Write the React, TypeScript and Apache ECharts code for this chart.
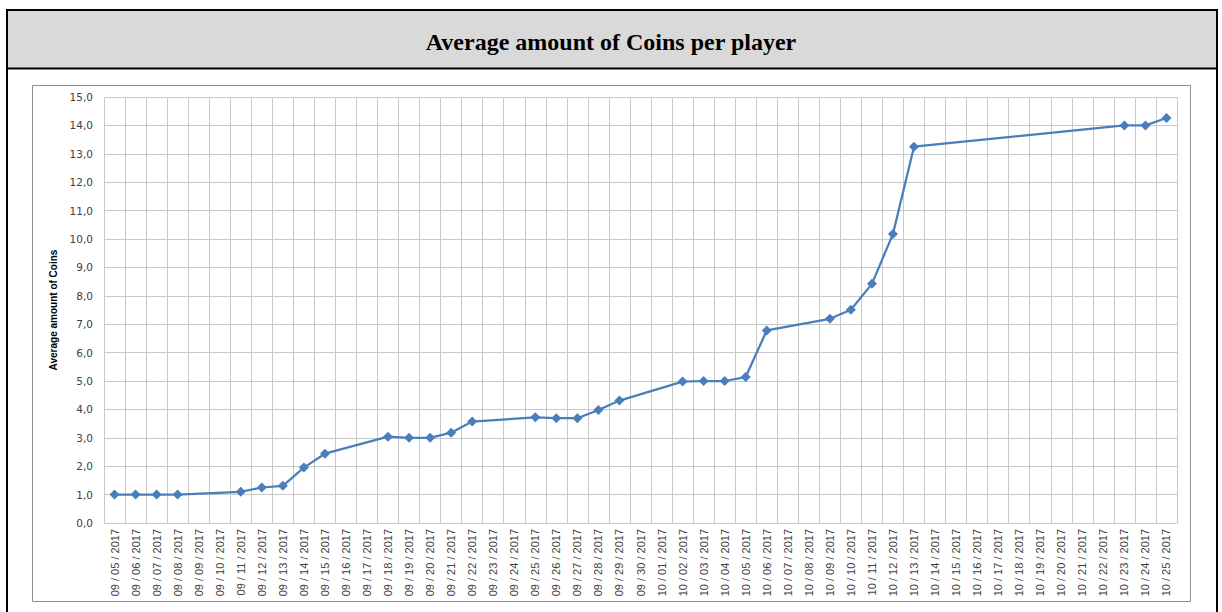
import React, { useEffect, useRef } from "react";
import * as echarts from "echarts";

const categories: string[] = [
  "09 / 05 / 2017", "09 / 06 / 2017", "09 / 07 / 2017", "09 / 08 / 2017", "09 / 09 / 2017",
  "09 / 10 / 2017", "09 / 11 / 2017", "09 / 12 / 2017", "09 / 13 / 2017", "09 / 14 / 2017",
  "09 / 15 / 2017", "09 / 16 / 2017", "09 / 17 / 2017", "09 / 18 / 2017", "09 / 19 / 2017",
  "09 / 20 / 2017", "09 / 21 / 2017", "09 / 22 / 2017", "09 / 23 / 2017", "09 / 24 / 2017",
  "09 / 25 / 2017", "09 / 26 / 2017", "09 / 27 / 2017", "09 / 28 / 2017", "09 / 29 / 2017",
  "09 / 30 / 2017", "10 / 01 / 2017", "10 / 02 / 2017", "10 / 03 / 2017", "10 / 04 / 2017",
  "10 / 05 / 2017", "10 / 06 / 2017", "10 / 07 / 2017", "10 / 08 / 2017", "10 / 09 / 2017",
  "10 / 10 / 2017", "10 / 11 / 2017", "10 / 12 / 2017", "10 / 13 / 2017", "10 / 14 / 2017",
  "10 / 15 / 2017", "10 / 16 / 2017", "10 / 17 / 2017", "10 / 18 / 2017", "10 / 19 / 2017",
  "10 / 20 / 2017", "10 / 21 / 2017", "10 / 22 / 2017", "10 / 23 / 2017", "10 / 24 / 2017",
  "10 / 25 / 2017",
];

const averageCoins: (number | null)[] = [
  1.0, 1.0, 1.0, 1.0, null,
  null, 1.1, 1.25, 1.31, 1.95,
  2.44, null, null, 3.04, 3.0,
  3.0, 3.18, 3.57, null, null,
  3.72, 3.69, 3.69, 3.98, 4.31,
  null, null, 4.98, 5.0, 5.0,
  5.14, 6.78, null, null, 7.19,
  7.51, 8.42, 10.18, 13.25, null,
  null, null, null, null, null,
  null, null, null, 14.0, 14.0,
  14.26,
];

const chartTitle = "Average amount of Coins per player";
const yAxisName = "Average amount of Coins";

export default function App() {
  const ref = useRef<HTMLDivElement>(null);
  useEffect(() => {
    if (!ref.current) return;
    const chart = echarts.init(ref.current, null, { renderer: "svg" });
    chart.setOption({
      animation: false,
      backgroundColor: "#ffffff",
      title: {
        text: chartTitle,
        left: "center",
        top: 25,
        textStyle: {
          fontFamily: "Liberation Serif",
          fontWeight: "bold",
          fontSize: 24,
          color: "#000000",
        },
      },
      graphic: [
        { type: "rect", z: -10, shape: { x: 7, y: 10, width: 1210, height: 59 }, style: { fill: "#d9d9d9" } },
        { type: "line", z: 10, shape: { x1: 7, y1: 10, x2: 1217, y2: 10 }, style: { stroke: "#000", lineWidth: 2 } },
        { type: "line", z: 10, shape: { x1: 7, y1: 68.5, x2: 1217, y2: 68.5 }, style: { stroke: "#000", lineWidth: 2 } },
        { type: "line", z: 10, shape: { x1: 7, y1: 9, x2: 7, y2: 612 }, style: { stroke: "#000", lineWidth: 2 } },
        { type: "line", z: 10, shape: { x1: 1217, y1: 9, x2: 1217, y2: 612 }, style: { stroke: "#000", lineWidth: 2 } },
        { type: "rect", z: -5, shape: { x: 32.5, y: 85.5, width: 1158, height: 516 }, style: { fill: "none", stroke: "#8c8c8c", lineWidth: 1 } },
      ],
      grid: { left: 104, right: 45, top: 97, bottom: 89, containLabel: false },
      xAxis: {
        type: "category",
        data: categories,
        boundaryGap: true,
        axisLine: { show: true, lineStyle: { color: "#c8c8c8" } },
        axisTick: { show: false },
        splitLine: { show: true, interval: 0, lineStyle: { color: "#c8c8c8", width: 1 } },
        axisLabel: {
          interval: 0,
          rotate: 90,
          margin: 6,
          fontFamily: "Liberation Sans",
          fontSize: 11,
          color: "#404040",
        },
      },
      yAxis: {
        type: "value",
        min: 0,
        max: 15,
        interval: 1,
        name: yAxisName,
        nameLocation: "middle",
        nameRotate: 90,
        nameGap: 42,
        nameTextStyle: { fontFamily: "Liberation Sans", fontWeight: "bold", fontSize: 10, color: "#000" },
        axisLine: { show: false },
        axisTick: { show: false },
        splitLine: { show: true, lineStyle: { color: "#c8c8c8", width: 1 } },
        axisLabel: {
          margin: 11,
          fontFamily: "DejaVu Sans",
          fontSize: 10.5,
          color: "#404040",
          formatter: (v: number) => v.toFixed(1).replace(".", ","),
        },
      },
      series: [
        {
          type: "line",
          data: averageCoins,
          connectNulls: true,
          symbol: "diamond",
          symbolSize: 10,
          itemStyle: { color: "#4a7ebb" },
          lineStyle: { color: "#4a7ebb", width: 2.25 },
        },
      ],
    });
    return () => chart.dispose();
  }, []);
  return (
    <div
      ref={ref}
      style={{ position: "absolute", left: 0, top: 0, width: 1222, height: 612 }}
    />
  );
}
